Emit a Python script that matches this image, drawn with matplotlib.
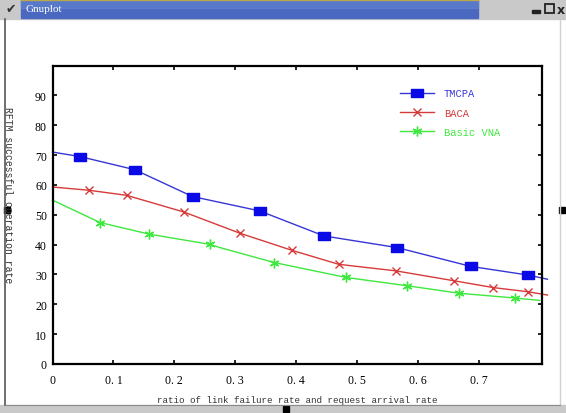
import numpy as np
import matplotlib
matplotlib.use("Agg")
import matplotlib.pyplot as plt
from matplotlib.patches import Rectangle
from matplotlib.path import Path

# data
tm_x = [0.0, 0.045, 0.135, 0.230, 0.340, 0.446, 0.566, 0.687, 0.781, 0.813]
tm_y = [71.0, 69.5, 65.1, 56.1, 51.3, 42.9, 39.0, 32.7, 29.8, 28.4]
tm_mk = [1, 2, 3, 4, 5, 6, 7, 8]

ba_x = [0.0, 0.060, 0.122, 0.216, 0.308, 0.393, 0.470, 0.564, 0.659, 0.724, 0.781, 0.813]
ba_y = [59.3, 58.2, 56.5, 50.9, 43.8, 38.1, 33.4, 31.2, 27.9, 25.6, 24.2, 23.1]
ba_mk = [1, 2, 3, 4, 5, 6, 7, 8, 9, 10]

vn_x = [0.0, 0.078, 0.159, 0.258, 0.275, 0.364, 0.482, 0.583, 0.668, 0.760, 0.800]
vn_y = [54.9, 47.4, 43.5, 40.1, 39.0, 34.0, 29.0, 26.2, 23.7, 22.1, 21.3]
vn_mk = [1, 2, 3, 5, 6, 7, 8, 9]

xticks = [0, 0.1, 0.2, 0.3, 0.4, 0.5, 0.6, 0.7]
xlabels = ["0", "0. 1", "0. 2", "0. 3", "0. 4", "0. 5", "0. 6", "0. 7"]
yticks = [0, 10, 20, 30, 40, 50, 60, 70, 80, 90]

BLUE = "#3636d6"; BLUEM = "#0a0ae6"; RED = "#d63a3a"; GREEN = "#3ee83e"
W, H = 566, 414
SERIF = ["Liberation Serif", "DejaVu Serif"]
MONO = ["Liberation Mono", "DejaVu Sans Mono"]

fig = plt.figure(figsize=(W / 100, H / 100), dpi=100)

# window chrome drawn in pixel coords
bg = fig.add_axes([0, 0, 1, 1], zorder=-5)
bg.set_xlim(0, W); bg.set_ylim(H, 0); bg.axis("off")
bg.add_patch(Rectangle((0, 0), W, H, color="white"))
bg.add_patch(Rectangle((0, 0), W, 20, color="#c9c9c9"))
bg.add_patch(Rectangle((21, 1), 457, 18, color="#4a68bf"))
bg.add_patch(Rectangle((21, 1), 457, 8, color="#6384d2", alpha=0.6))
bg.plot([21, 478], [1, 1], color="#b8a84a", lw=1)
bg.text(26, 10, "Gnuplot", color="white", fontsize=8, va="center", family=SERIF)
bg.text(11, 10, "\u2714", color="#333333", fontsize=9, va="center", ha="center")
bg.add_patch(Rectangle((532, 11), 8, 3, color="#222222"))
bg.add_patch(Rectangle((545, 5), 9, 9, fill=False, ec="#222222", lw=1.3))
bg.text(561, 10, "x", color="#222222", fontsize=9, va="center", ha="center", fontweight="bold")
bg.plot([5, 5], [20, 406], color="#555555", lw=1.2)
bg.plot([560, 560], [20, 406], color="#d0d0d0", lw=1)
bg.add_patch(Rectangle((0, 406), W, 8, color="#c9c9c9"))
bg.plot([5, 560], [406, 406], color="#8a8a8a", lw=0.8)
for (px, py) in [(7, 211), (562, 211), (286, 410)]:
    bg.add_patch(Rectangle((px - 3, py - 3), 6, 6, color="black"))

ax = fig.add_axes([52.5 / W, 1 - 365 / H, (542 - 52.5) / W, (365 - 66.5) / H])
ax.set_xlim(0, 0.804); ax.set_ylim(0, 100)

rect = Path([(-1, -0.62), (1, -0.62), (1, 0.62), (-1, 0.62), (-1, -0.62)],
            [Path.MOVETO, Path.LINETO, Path.LINETO, Path.LINETO, Path.CLOSEPOLY])

ax.plot(tm_x, tm_y, color=BLUE, lw=1.0, marker=rect, ms=8.5, mfc=BLUEM, mec=BLUEM,
        markevery=tm_mk, clip_on=False, label="TMCPA")
ax.plot(ba_x, ba_y, color=RED, lw=1.0, marker="x", ms=6, mew=1.0,
        markevery=ba_mk, clip_on=False, label="BACA")
ax.plot(vn_x, vn_y, color=GREEN, lw=1.0, marker=(6, 2, 0), ms=7, mew=1.0,
        markevery=vn_mk, clip_on=False, label="Basic VNA")

ax.set_xticks(xticks)
ax.set_xticklabels(xlabels, family=SERIF, fontsize=8.5)
ax.set_yticks(yticks)
ax.set_yticklabels([str(v) for v in yticks], family=SERIF, fontsize=8.5)
ax.tick_params(direction="in", length=3, width=1.2, top=True, right=True)
ax.tick_params(axis="x", pad=7)
ax.tick_params(axis="y", pad=4)
for s in ax.spines.values():
    s.set_linewidth(1.6)

ax.set_xlabel("ratio of link failure rate and request arrival rate", family=MONO,
              fontsize=6.6, color="#333333", labelpad=7)
fig.text(8 / W, 1 - 195 / H, "RFTM successful operation rate", rotation=-90,
         family=MONO, fontsize=7, color="#333333", ha="center", va="center")

leg = ax.legend(loc="upper left", bbox_to_anchor=(395 / W, 1 - 84 / H),
                bbox_transform=fig.transFigure, frameon=False,
                handlelength=3.2, handletextpad=1.0, labelspacing=0.9,
                borderpad=0, labelcolor="linecolor", prop={"family": MONO, "size": 7.5})

fig.savefig("out.png", dpi=100)
